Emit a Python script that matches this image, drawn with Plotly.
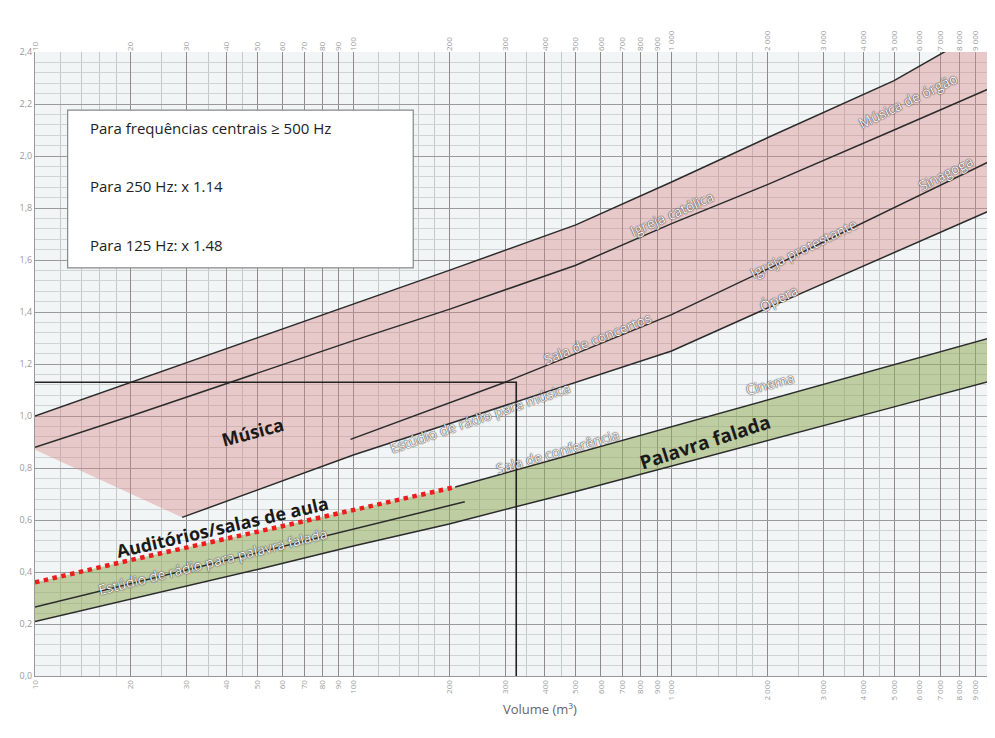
import plotly.graph_objects as go

# Tempo de reverberação ótimo (s) em função do volume (m³)
vol_igreja_cat = [10, 20, 50, 100, 200, 500, 1000, 2000, 5000, 10000, 10500]
t_igreja_cat = [1.00, 1.13, 1.30, 1.43, 1.56, 1.735, 1.90, 2.07, 2.29, 2.50, 2.52]

vol_orgao = [10, 20, 50, 100, 200, 500, 1000, 2000, 5000, 10000, 10500]
t_orgao = [0.88, 1.00, 1.165, 1.29, 1.41, 1.58, 1.74, 1.89, 2.10, 2.26, 2.28]

vol_concertos = [98, 200, 300, 500, 1000, 2000, 5000, 10000, 10500]
t_concertos = [0.91, 1.05, 1.13, 1.24, 1.39, 1.565, 1.80, 1.98, 2.00]

vol_opera = [29, 50, 100, 200, 500, 1000, 2000, 5000, 10000, 10500]
t_opera = [0.61, 0.715, 0.85, 0.97, 1.13, 1.25, 1.415, 1.63, 1.79, 1.81]

vol_fala_inf = [10, 20, 50, 100, 200, 500, 1000, 2000, 5000, 10000, 10500]
t_fala_inf = [0.21, 0.296, 0.41, 0.50, 0.585, 0.71, 0.807, 0.905, 1.035, 1.134, 1.14]

vol_conferencia = [209, 500, 1000, 2000, 5000, 10000, 10500]
t_conferencia = [0.727, 0.856, 0.958, 1.06, 1.196, 1.30, 1.31]

vol_radio_fala = [10, 100, 224]
t_radio_fala = [0.265, 0.565, 0.67]

vol_auditorios = [10, 20, 50, 100, 209]
t_auditorios = [0.36, 0.446, 0.555, 0.64, 0.727]

# canto inferior esquerdo da zona "Música" (sem linha)
vol_musica_canto = [10]
t_musica_canto = [0.87]

# leitura de exemplo
vol_exemplo = 325
t_exemplo = 1.13

# eixos
vol_ticks = [10, 20, 30, 40, 50, 60, 70, 80, 90,
             100, 200, 300, 400, 500, 600, 700, 800, 900,
             1000, 2000, 3000, 4000, 5000, 6000, 7000, 8000, 9000, 10000]
vol_ticktext = [f"{v:,}".replace(",", " ") for v in vol_ticks]
t_ticks = [0.0, 0.2, 0.4, 0.6, 0.8, 1.0, 1.2, 1.4, 1.6, 1.8, 2.0, 2.2, 2.4]
t_ticktext = [f"{t:.1f}".replace(".", ",") for t in t_ticks]

minor_x = []
for d in [10, 100, 1000]:
    minor_x += [d * m for m in [1.2, 1.4, 1.6, 1.8, 2.5, 3.5, 4.5]]

LINE = dict(color="#2b2b2b", width=1.5)

fig = go.Figure()

# zona música (rosa)
fig.add_trace(go.Scatter(
    x=vol_igreja_cat + vol_opera[::-1] + vol_musica_canto,
    y=t_igreja_cat + t_opera[::-1] + t_musica_canto,
    fill="toself", fillcolor="rgba(214,135,135,0.40)",
    line=dict(width=0), mode="lines", hoverinfo="skip", showlegend=False))

# zona palavra falada (verde)
fig.add_trace(go.Scatter(
    x=vol_auditorios + vol_conferencia + vol_fala_inf[::-1],
    y=t_auditorios + t_conferencia + t_fala_inf[::-1],
    fill="toself", fillcolor="rgba(150,172,95,0.55)",
    line=dict(width=0), mode="lines", hoverinfo="skip", showlegend=False))

for v, t in [(vol_igreja_cat, t_igreja_cat), (vol_orgao, t_orgao),
             (vol_concertos, t_concertos), (vol_opera, t_opera),
             (vol_fala_inf, t_fala_inf), (vol_conferencia, t_conferencia),
             (vol_radio_fala, t_radio_fala)]:
    fig.add_trace(go.Scatter(x=v, y=t, mode="lines", line=LINE,
                             hoverinfo="skip", showlegend=False))

# leitura de exemplo
fig.add_trace(go.Scatter(x=[10, vol_exemplo, vol_exemplo], y=[t_exemplo, t_exemplo, 0],
                         mode="lines", line=dict(color="#222", width=1.6),
                         hoverinfo="skip", showlegend=False))

# auditórios / salas de aula
fig.add_trace(go.Scatter(x=vol_auditorios, y=t_auditorios, mode="lines",
                         line=dict(color="#ee1c1c", width=4.5, dash="dot"),
                         hoverinfo="skip", showlegend=False))

# eixo superior
fig.add_trace(go.Scatter(x=[vol_ticks[0], vol_ticks[-1]], y=[0, 0], xaxis="x2",
                         mode="lines", line=dict(width=0), opacity=0,
                         hoverinfo="skip", showlegend=False))

rotulos = [
    ("Igreja católica", 672, 213, -24),
    ("Música de órgão", 908, 100, -26),
    ("Igreja protestante", 803, 248, -26),
    ("Sinagoga", 945, 173, -27),
    ("Ópera", 778, 298, -27),
    ("Sala de concertos", 597, 338, -22),
    ("Estúdio de rádio para música", 480, 417, -19),
    ("Sala de conferência", 557, 451, -16),
    ("Cinema", 770, 383, -15),
    ("Estúdio de rádio para palavra falada", 212, 561, -14),
]
for txt, px, py, ang in rotulos:
    fig.add_annotation(x=1 + (px - 35) / 318.3, y=(676 - py) / 260, text=txt,
                       textangle=ang, showarrow=False,
                       font=dict(family="Open Sans", size=14, color="#fdf5f5",
                                 shadow="0px 0px 1px #222, 0px 0px 1.5px #444"))

negrito = [
    ("Música", 252, 432, -15, 18),
    ("Auditórios/salas de aula", 222, 527, -13, 18),
    ("Palavra falada", 705, 442, -18, 19),
]
for txt, px, py, ang, sz in negrito:
    fig.add_annotation(x=1 + (px - 35) / 318.3, y=(676 - py) / 260, text="<b>" + txt + "</b>",
                       textangle=ang, showarrow=False,
                       font=dict(family="Open Sans", size=sz, color="#1a1a1a"))

# caixa de texto
fig.add_shape(type="rect", xref="paper", yref="paper",
              x0=0.034, x1=0.394, y0=0.654, y1=0.907,
              fillcolor="white", line=dict(color="#888", width=1.2), layer="above")
for txt, py in [("Para frequências centrais ≥ 500 Hz", 128),
                ("Para 250 Hz: x 1.14", 186),
                ("Para 125 Hz: x 1.48", 245)]:
    fig.add_annotation(xref="paper", yref="paper", x=0.055, y=(676 - py) / 624,
                       xanchor="left", yanchor="middle", text=txt, showarrow=False,
                       font=dict(family="Open Sans", size=15, color="#222"))

fig.add_annotation(xref="paper", yref="paper", x=0.526, y=-0.07, text="Volume (m³)",
                   showarrow=False, font=dict(family="Open Sans", size=13, color="#666"))

eixo_x = dict(type="log", range=[1, 4.016], tickmode="array", automargin=False,
              tickvals=vol_ticks, ticktext=vol_ticktext, tickangle=-90,
              ticklabeloverflow="allow",
              tickfont=dict(family="Open Sans", size=8, color="#999"))

fig.update_layout(
    width=987, height=722,
    margin=dict(l=27, r=0, t=44, b=54),
    paper_bgcolor="white", plot_bgcolor="#f2f5f5",
    xaxis=dict(**eixo_x, showgrid=True, gridcolor="#8c8c8c", gridwidth=1,
               minor=dict(tickmode="array", tickvals=minor_x, showgrid=True,
                          gridcolor="#c4c8c8", ticks=""),
               showline=True, linecolor="#999", ticks="", zeroline=False),
    xaxis2=dict(**eixo_x, overlaying="x", side="top", showgrid=False, ticks=""),
    yaxis=dict(range=[0, 2.4], tickmode="array", tickvals=t_ticks, ticktext=t_ticktext,
               tickfont=dict(family="Open Sans", size=9, color="#999"), automargin=False,
               showgrid=True, gridcolor="#9a9a9a", zeroline=False,
               minor=dict(dtick=0.04, showgrid=True, gridcolor="#cfd3d3", ticks=""),
               showline=True, linecolor="#999", ticks=""),
    showlegend=False,
)

fig.write_html("out.html")
